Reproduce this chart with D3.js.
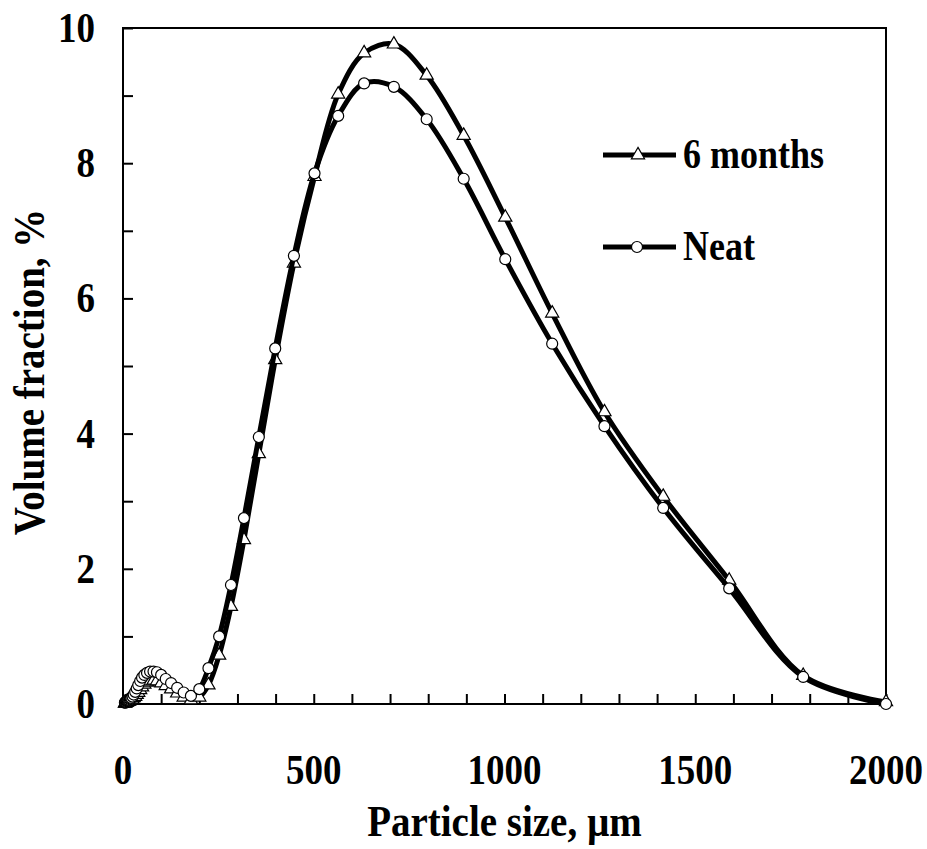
<!DOCTYPE html>
<html>
<head>
<meta charset="utf-8">
<script src="https://cdn.jsdelivr.net/npm/d3@7"></script>
<style>
  body { margin: 0; background: #fff; }
  text { font-family: "Liberation Serif", "Times New Roman", serif; font-weight: bold; fill: #000; }
</style>
</head>
<body>
<div id="chart"></div>
<script>
// particle size bins, µm
const sizes = [5, 6, 7, 8, 9, 10, 11, 12.5, 14, 16, 18, 20, 22, 25, 28, 32, 36, 40, 45, 50,
  56, 63, 71, 80, 89, 100, 112, 126, 142, 159, 178, 200, 224, 252, 283, 317, 356, 399, 448,
  502, 564, 632, 710, 796, 893, 1002, 1125, 1262, 1416, 1589, 1783, 2000];

// volume fraction, %
const neat = [0.02, 0.02, 0.03, 0.03, 0.04, 0.04, 0.05, 0.05, 0.06, 0.06, 0.07, 0.08, 0.09, 0.11,
  0.14, 0.18, 0.23, 0.28, 0.34, 0.39, 0.43, 0.46, 0.48, 0.48, 0.47, 0.43, 0.37, 0.31, 0.24, 0.17,
  0.12, 0.22, 0.53, 1.0, 1.76, 2.75, 3.95, 5.26, 6.63, 7.85, 8.7, 9.18, 9.13, 8.65, 7.77, 6.58,
  5.33, 4.11, 2.9, 1.71, 0.4, 0];

const sixMonths = [0.01, 0.01, 0.02, 0.02, 0.02, 0.03, 0.03, 0.04, 0.04, 0.04, 0.05, 0.05, 0.06, 0.07,
  0.09, 0.11, 0.14, 0.17, 0.21, 0.25, 0.29, 0.32, 0.34, 0.35, 0.34, 0.31, 0.27, 0.22, 0.16, 0.1,
  0.06, 0.1, 0.28, 0.72, 1.44, 2.43, 3.7, 5.09, 6.52, 7.8, 9.02, 9.63, 9.76, 9.3, 8.41, 7.2,
  5.78, 4.32, 3.07, 1.83, 0.42, 0.03];

const xTicks = [0, 500, 1000, 1500, 2000];
const yTicks = [0, 2, 4, 6, 8, 10];

const width = 927, height = 849;
const margin = { top: 28, right: 41, bottom: 145, left: 123 };

const x = d3.scaleLinear().domain([0, 2000]).range([margin.left, width - margin.right]);
const y = d3.scaleLinear().domain([0, 10]).range([height - margin.bottom, margin.top]);

const svg = d3.select('#chart').append('svg')
  .attr('width', width)
  .attr('height', height);

// text looks tall and narrow in the original, stretch it a bit
const stretch = (tx, ty, rot) =>
  'translate(' + tx + ',' + ty + ')' + (rot ? ' rotate(' + rot + ')' : '') + ' scale(1,1.15)';

// frame
svg.append('rect')
  .attr('x', x(0)).attr('y', y(10))
  .attr('width', x(2000) - x(0)).attr('height', y(0) - y(10))
  .attr('fill', 'none').attr('stroke', '#000').attr('stroke-width', 2);

// ticks (inside)
const xAxis = svg.append('g').attr('transform', 'translate(0,' + y(0) + ')')
  .call(d3.axisBottom(x).tickValues(d3.range(0, 2001, 100)).tickSize(-10).tickFormat(''));
const yAxis = svg.append('g').attr('transform', 'translate(' + x(0) + ',0)')
  .call(d3.axisLeft(y).tickValues(d3.range(0, 11, 1)).tickSize(-10).tickFormat(''));
[xAxis, yAxis].forEach(g => {
  g.select('.domain').remove();
  g.selectAll('line').attr('stroke', '#000').attr('stroke-width', 2);
});

// tick labels
svg.append('g').selectAll('text')
  .data(xTicks).enter().append('text')
  .attr('transform', d => stretch(x(d), y(0) + 80))
  .attr('text-anchor', 'middle')
  .style('font-size', '37px')
  .text(d => d);

svg.append('g').selectAll('text')
  .data(yTicks).enter().append('text')
  .attr('transform', d => stretch(x(0) - 28, y(d) + 14))
  .attr('text-anchor', 'end')
  .style('font-size', '37px')
  .text(d => d);

// axis titles
svg.append('text')
  .attr('transform', stretch((x(0) + x(2000)) / 2, 836))
  .attr('text-anchor', 'middle')
  .style('font-size', '39px')
  .text('Particle size, µm');

svg.append('text')
  .attr('transform', stretch(44, (y(0) + y(10)) / 2 + 6, -90))
  .attr('text-anchor', 'middle')
  .style('font-size', '39px')
  .text('Volume fraction, %');

// series
const line = d3.line()
  .x(d => x(d[0]))
  .y(d => y(d[1]))
  .curve(d3.curveCatmullRom);

const triangle = d3.symbol().type(d3.symbolTriangle).size(75);

const series = [
  { name: '6 months', values: sixMonths, marker: 'triangle' },
  { name: 'Neat', values: neat, marker: 'circle' }
];

series.forEach(s => {
  const pts = sizes.map((d, i) => [d, s.values[i]]);
  svg.append('path')
    .datum(pts)
    .attr('d', line)
    .attr('fill', 'none')
    .attr('stroke', '#000')
    .attr('stroke-width', 5);
  const g = svg.append('g');
  if (s.marker === 'circle') {
    g.selectAll('circle').data(pts).enter().append('circle')
      .attr('cx', d => x(d[0])).attr('cy', d => y(d[1])).attr('r', 5.5)
      .attr('fill', '#fff').attr('stroke', '#000').attr('stroke-width', 1.2);
  } else {
    g.selectAll('path').data(pts).enter().append('path')
      .attr('d', triangle)
      .attr('transform', d => 'translate(' + x(d[0]) + ',' + y(d[1]) + ')')
      .attr('fill', '#fff').attr('stroke', '#000').attr('stroke-width', 1.2);
  }
});

// legend
const legend = svg.append('g');
series.forEach((s, i) => {
  const ly = 155 + i * 92;
  legend.append('line')
    .attr('x1', 603).attr('x2', 676).attr('y1', ly).attr('y2', ly)
    .attr('stroke', '#000').attr('stroke-width', 5);
  if (s.marker === 'circle') {
    legend.append('circle').attr('cx', 637).attr('cy', ly).attr('r', 5.5)
      .attr('fill', '#fff').attr('stroke', '#000').attr('stroke-width', 1.2);
  } else {
    legend.append('path').attr('d', triangle)
      .attr('transform', 'translate(638,' + ly + ')')
      .attr('fill', '#fff').attr('stroke', '#000').attr('stroke-width', 1.2);
  }
  legend.append('text')
    .attr('transform', stretch(683, ly + 13))
    .style('font-size', '36px')
    .text(s.name);
});
</script>
</body>
</html>
